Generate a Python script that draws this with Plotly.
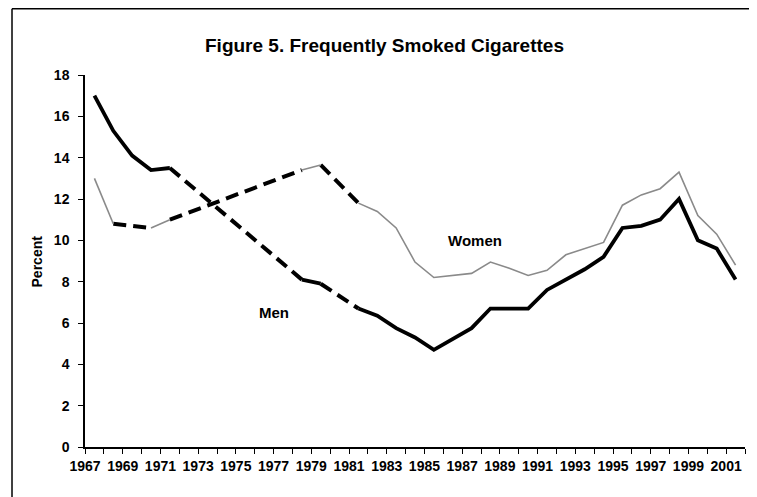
import plotly.graph_objects as go

years = list(range(1967, 2002))
men = [17.0, 15.3, 14.1, 13.4, 13.5,
       None, None, None, None, None, None,
       8.1, 7.9, None,
       6.7, 6.35, 5.75, 5.3, 4.7, 5.2, 5.75, 6.7, 6.7, 6.7, 7.6,
       8.1, 8.6, 9.2, 10.6, 10.7, 11.0, 12.0, 10.0, 9.6, 8.1]
women = [13.0, 10.8, None, 10.6, 11.0,
         None, None, None, None, None, None,
         13.4, 13.65, None,
         11.8, 11.4, 10.6, 8.95, 8.2, 8.3, 8.4, 8.95, 8.65, 8.3, 8.55,
         9.3, 9.6, 9.9, 11.7, 12.2, 12.5, 13.3, 11.2, 10.3, 8.8]
label_years = list(range(1967, 2002, 2))
y_ticks = list(range(0, 19, 2))


def gap_bridges(xs, ys):
    bx, by = [], []
    i = 0
    n = len(ys)
    while i < n:
        if ys[i] is None:
            j = i
            while j < n and ys[j] is None:
                j += 1
            if i > 0 and j < n:
                bx += [xs[i - 1], xs[j], None]
                by += [ys[i - 1], ys[j], None]
            i = j
        else:
            i += 1
    return bx, by


fig = go.Figure()
mx, my = gap_bridges(years, men)
wx, wy = gap_bridges(years, women)
dash = dict(color="black", width=4, dash="13px,7px")
fig.add_trace(go.Scatter(x=mx, y=my, mode="lines", line=dash, connectgaps=False, hoverinfo="skip"))
fig.add_trace(go.Scatter(x=wx, y=wy, mode="lines", line=dash, connectgaps=False, hoverinfo="skip"))
fig.add_trace(go.Scatter(x=years, y=women, mode="lines", name="Women",
                         line=dict(color="#8a8a8a", width=1.6), connectgaps=False))
fig.add_trace(go.Scatter(x=years, y=men, mode="lines", name="Men",
                         line=dict(color="black", width=3.8), connectgaps=False))

bold = dict(family="Liberation Sans, Arial, sans-serif", color="black", weight="bold")

fig.update_layout(
    width=749, height=489,
    margin=dict(l=77, r=12, t=67, b=50),
    paper_bgcolor="white", plot_bgcolor="white",
    showlegend=False,
    xaxis=dict(
        range=[1966.5, 2001.5], showgrid=False, zeroline=False,
        tickmode="array", tickvals=[y - 0.5 for y in label_years],
        ticktext=[str(y) for y in label_years],
        ticks="outside", ticklen=5, tickwidth=1, tickcolor="black",
        showline=True, linecolor="black", linewidth=1.5,
        tickfont=dict(size=14, **bold),
        minor=dict(ticks="outside", ticklen=5, tick0=1966.5, dtick=1, tickcolor="black", showgrid=False),
    ),
    yaxis=dict(
        range=[0, 18], tickmode="array", tickvals=y_ticks, showgrid=False, zeroline=False,
        ticks="outside", ticklen=5, tickwidth=1, tickcolor="black",
        showline=True, linecolor="black", linewidth=1.5,
        tickfont=dict(size=14, **bold), ticklabelstandoff=6,
    ),
    annotations=[
        dict(text="Figure 5. Frequently Smoked Cigarettes", xref="paper", yref="paper",
             x=0.4545, y=1.0806, showarrow=False, font=dict(size=19, **bold),
             xanchor="center", yanchor="middle"),
        dict(text="Percent", xref="paper", yref="paper", x=-0.072, y=0.5, textangle=-90,
             showarrow=False, font=dict(size=14, **bold), xanchor="center", yanchor="middle"),
        dict(text="Men", x=1976.5, y=6.53, showarrow=False, font=dict(size=15, **bold)),
        dict(text="Women", x=1987.2, y=9.97, showarrow=False, font=dict(size=15, **bold)),
    ],
    shapes=[
        dict(type="line", xref="paper", yref="paper", x0=-0.1106, x1=-0.1106, y0=1.178, y1=-0.14,
             line=dict(color="black", width=1.5)),
        dict(type="line", xref="paper", yref="paper", x0=-0.1106, x1=1.02, y0=1.178, y1=1.178,
             line=dict(color="black", width=1.5)),
    ],
)

fig.write_html("out.html")
